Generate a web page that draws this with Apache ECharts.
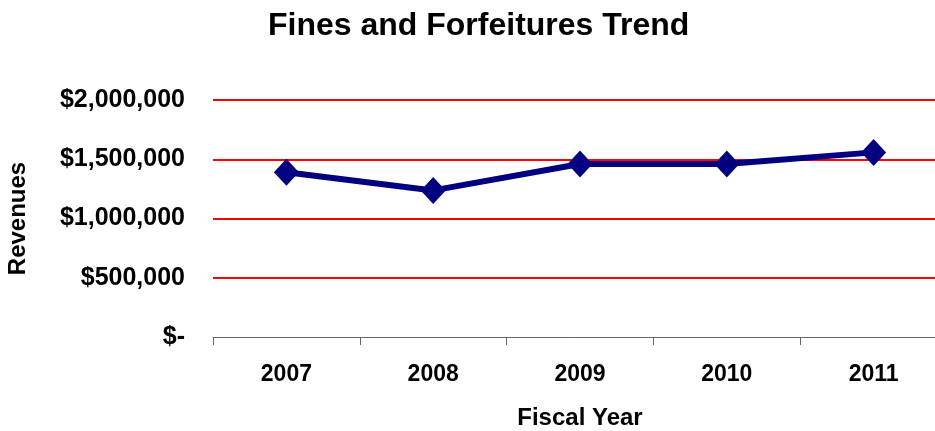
<!DOCTYPE html>
<html>
<head>
<meta charset="utf-8">
<script src="https://cdn.jsdelivr.net/npm/echarts@6/dist/echarts.min.js"></script>
<style>
  html, body { margin: 0; padding: 0; background: #fff; }
  #trendChart { width: 935px; height: 431px; }
</style>
</head>
<body>
<div id="trendChart"></div>
<script>
var years = ['2007', '2008', '2009', '2010', '2011'];
var revenues = [1390000, 1237000, 1460000, 1460000, 1558000];
var yTicks = [0, 500000, 1000000, 1500000, 2000000];

(function () {
    var trendChart = echarts.init(document.getElementById('trendChart'));

    function money(v) {
        if (v === 0) return '$-';
        return '$' + v.toString().replace(/\B(?=(\d{3})+(?!\d))/g, ',');
    }

    var font = 'Liberation Sans, Arial, sans-serif';

    var option = {
        animation: false,
        title: {
            text: 'Fines and Forfeitures Trend',
            left: 263,
            top: 5,
            textStyle: { fontFamily: font, fontWeight: 'bold', fontSize: 32, color: '#000' }
        },
        grid: {
            left: 213, right: -12, top: 100, bottom: 94,
            containLabel: false,
            outerBoundsMode: 'none'
        },
        xAxis: {
            type: 'category',
            data: years,
            boundaryGap: true,
            name: 'Fiscal Year',
            nameLocation: 'middle',
            nameGap: 69,
            nameTextStyle: { fontFamily: font, fontWeight: 'bold', fontSize: 24, color: '#000' },
            axisLine: { show: true, lineStyle: { color: '#666', width: 1 } },
            axisTick: { show: true, inside: false, length: 8, lineStyle: { color: '#666', width: 1 } },
            axisLabel: { margin: 26, fontFamily: font, fontWeight: 'bold', fontSize: 23, color: '#000' },
            z: 5
        },
        yAxis: {
            type: 'value',
            min: yTicks[0],
            max: yTicks[yTicks.length - 1],
            interval: yTicks[1] - yTicks[0],
            name: 'Revenues',
            nameLocation: 'middle',
            nameGap: 183,
            nameRotate: 90,
            nameTextStyle: { fontFamily: font, fontWeight: 'bold', fontSize: 24, color: '#000' },
            axisLine: { show: false },
            axisTick: { show: false },
            splitLine: { showMinLine: false, lineStyle: { color: '#ff0000', width: 2 } },
            axisLabel: {
                margin: 28,
                fontFamily: font, fontWeight: 'bold', fontSize: 25, color: '#000',
                formatter: money
            }
        },
        series: [
            {
                name: 'Revenues',
                type: 'line',
                data: revenues,
                symbol: 'diamond',
                symbolSize: [25, 27],
                lineStyle: { color: '#000080', width: 6 },
                itemStyle: { color: '#000080' }
            }
        ]
    };
    trendChart.setOption(option);
})();
</script>
</body>
</html>
